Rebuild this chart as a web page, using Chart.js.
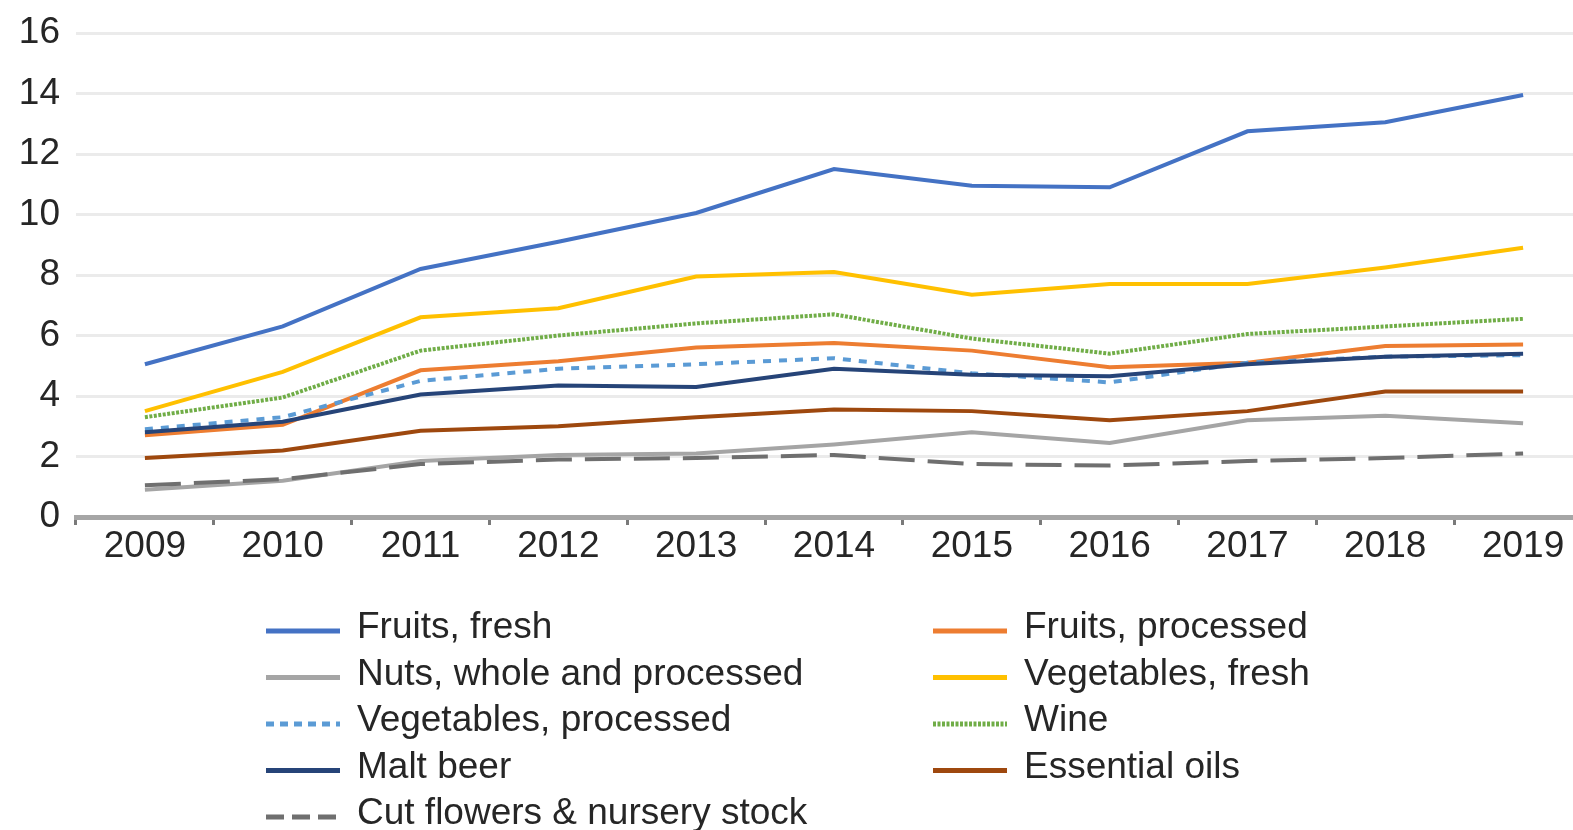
<!DOCTYPE html>
<html>
<head>
<meta charset="utf-8">
<title>Exports by product, 2009-2019</title>
<script src="https://cdn.jsdelivr.net/npm/chart.js@4.4.1/dist/chart.umd.min.js"></script>
<style>
    html, body { margin: 0; padding: 0; background: #fff; overflow: hidden; }
    #wrap { position: relative; width: 1595px; height: 830px; }
</style>
</head>
<body>
<div id="wrap"><canvas id="exportsChart"></canvas></div>
<script>
// Data (US$ billion)
const years = ['2009', '2010', '2011', '2012', '2013', '2014', '2015', '2016', '2017', '2018', '2019'];
const yTicks = [0, 2, 4, 6, 8, 10, 12, 14, 16];

const fruitsFresh      = [5.05, 6.3, 8.2, 9.1, 10.05, 11.5, 10.95, 10.9, 12.75, 13.05, 13.95];
const fruitsProcessed  = [2.7, 3.05, 4.85, 5.15, 5.6, 5.75, 5.5, 4.95, 5.1, 5.65, 5.7];
const nuts             = [0.9, 1.2, 1.85, 2.05, 2.1, 2.4, 2.8, 2.45, 3.2, 3.35, 3.1];
const vegFresh         = [3.5, 4.8, 6.6, 6.9, 7.95, 8.1, 7.35, 7.7, 7.7, 8.25, 8.9];
const vegProcessed     = [2.9, 3.3, 4.5, 4.9, 5.05, 5.25, 4.75, 4.45, 5.1, 5.3, 5.35];
const wine             = [3.3, 3.95, 5.5, 6.0, 6.4, 6.7, 5.9, 5.4, 6.05, 6.3, 6.55];
const maltBeer         = [2.8, 3.15, 4.05, 4.35, 4.3, 4.9, 4.7, 4.65, 5.05, 5.3, 5.4];
const essentialOils    = [1.95, 2.2, 2.85, 3.0, 3.3, 3.55, 3.5, 3.2, 3.5, 4.15, 4.15];
const cutFlowers       = [1.05, 1.25, 1.75, 1.9, 1.95, 2.05, 1.75, 1.7, 1.85, 1.95, 2.1];

const FONT = '"Liberation Sans", Arial, sans-serif';
const TEXT = '#262626';

function series(label, values, color, dash, legendDash) {
    return {
        label: label,
        data: values,
        borderColor: color,
        backgroundColor: color,
        borderWidth: 4,
        borderDash: dash || [],
        legendDash: legendDash || dash || [],
        borderCapStyle: 'butt',
        pointRadius: 0,
        tension: 0,
        fill: false
    };
}

const datasets = [
    series('Fruits, fresh', fruitsFresh, '#4472c4'),
    series('Fruits, processed', fruitsProcessed, '#ed7d31'),
    series('Nuts, whole and processed', nuts, '#a5a5a5'),
    series('Vegetables, fresh', vegFresh, '#ffc000'),
    series('Vegetables, processed', vegProcessed, '#5b9bd5', [8, 8], [8, 6]),
    series('Wine', wine, '#70ad47', [3, 1.5]),
    series('Malt beer', maltBeer, '#264478'),
    series('Essential oils', essentialOils, '#9e480e'),
    series('Cut flowers & nursery stock', cutFlowers, '#6f6f6f', [36, 13], [18, 8])
];
// later series are painted on top, like the source
datasets.forEach((d, i) => { d.order = datasets.length - i; });

// Two-column legend underneath the plot
const gridLegend = {
    id: 'gridLegend',
    afterDraw(chart, args, opts) {
        const ctx = chart.ctx;
        chart.data.datasets.forEach((ds, i) => {
            const x = opts.cols[i % 2];
            const y = opts.top + Math.floor(i / 2) * opts.rowHeight;
            ctx.save();
            ctx.strokeStyle = ds.borderColor;
            ctx.lineWidth = 5;
            ctx.setLineDash(ds.legendDash);
            ctx.beginPath();
            ctx.moveTo(x, y);
            ctx.lineTo(x + opts.sample, y);
            ctx.stroke();
            ctx.setLineDash([]);
            ctx.fillStyle = TEXT;
            ctx.font = opts.fontSize + 'px ' + FONT;
            ctx.textBaseline = 'middle';
            ctx.fillText(ds.label, x + opts.gap, y - 3);
            ctx.restore();
        });
    }
};

const ctx = document.getElementById('exportsChart').getContext('2d');
const chart = new Chart(ctx, {
    type: 'line',
    data: { labels: years, datasets: datasets },
    plugins: [gridLegend],
    options: {
        responsive: true,
        maintainAspectRatio: false,
        animation: false,
        layout: { padding: { top: 33, right: 3, bottom: 251, left: 0 } },
        plugins: {
            legend: { display: false },
            tooltip: { enabled: false },
            gridLegend: { cols: [266, 933], top: 631, rowHeight: 46.5, sample: 74, gap: 91, fontSize: 37 }
        },
        scales: {
            x: {
                offset: true,
                grid: {
                    offset: true,
                    drawOnChartArea: false,
                    drawTicks: true,
                    tickLength: 8,
                    tickWidth: 3,
                    tickColor: '#7a7a7a'
                },
                border: { display: true, color: '#a6a6a6', width: 5 },
                ticks: {
                    color: TEXT,
                    font: { family: FONT, size: 37 },
                    padding: 0,
                    maxRotation: 0,
                    autoSkip: false
                },
                afterFit: function(scale) { scale.height = 62; }
            },
            y: {
                min: 0,
                max: 16,
                afterBuildTicks: function(scale) {
                    scale.ticks = yTicks.map(v => ({ value: v }));
                },
                grid: {
                    color: '#ebebeb',
                    lineWidth: 3,
                    drawTicks: false
                },
                border: { display: false },
                ticks: {
                    color: TEXT,
                    font: { family: FONT, size: 37 },
                    padding: 16
                },
                afterFit: function(scale) {
                    scale.width = 76;
                    scale.paddingTop = 0;
                    scale.paddingBottom = 0;
                }
            }
        }
    }
});
</script>
</body>
</html>
